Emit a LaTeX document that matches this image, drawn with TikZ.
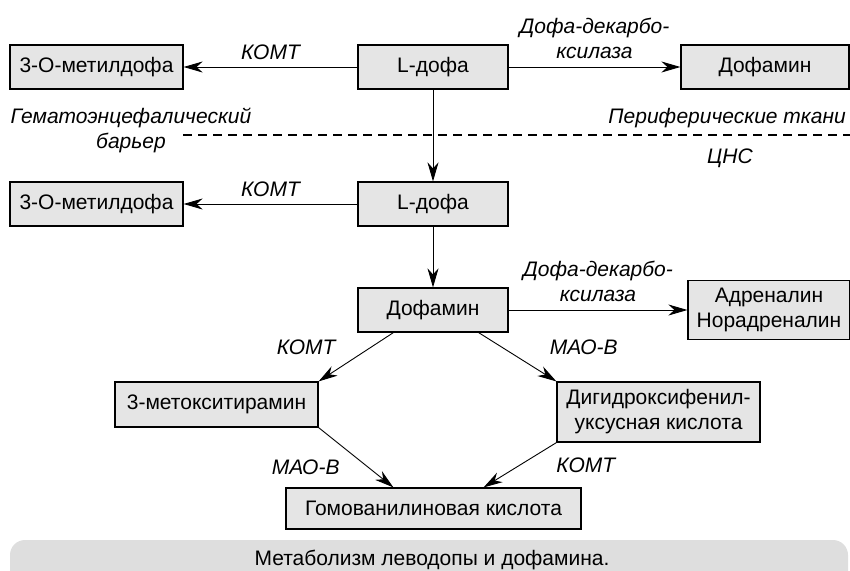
\documentclass[tikz,border=0pt]{standalone}
\usepackage{fontspec}
\setmainfont{Liberation Sans}
\usetikzlibrary{arrows.meta, calc, positioning}
\definecolor{boxgray}{gray}{0.9}
\definecolor{bargray}{gray}{0.87}
\tikzset{
    box/.style={draw, line width=1.2pt, fill=boxgray, inner sep=2pt, align=center,
        font=\fontsize{21}{25}\selectfont},
    enz/.style={font=\fontsize{21}{25}\selectfont\itshape, align=center, inner sep=2pt},
    reac/.style={line width=0.9pt, -{Stealth[length=19pt, width=11pt, inset=6pt]}},
    barrier/.style={line width=2pt, dash pattern=on 9pt off 6pt}
}

\begin{document}
\begin{tikzpicture}[x=1pt, y=-1pt]
    \useasboundingbox (0,0) rectangle (850,570);
    % periphery
    \node[box, minimum width=173, minimum height=44] (met1) at (96.5,67) {3-O-метилдофа};
    \node[box, minimum width=150, minimum height=44] (ldopa1) at (433,67) {L-дофа};
    \node[box, minimum width=168, minimum height=44] (dofa1) at (765,67) {Дофамин};
    \draw[reac] (ldopa1) -- node[enz, above=5pt] (k1) {КОМТ} (met1);
    \draw[reac] (ldopa1) -- node[enz, above=6pt] (d1) {Дофа-декарбо-\\ксилаза} (dofa1);
    % barrier
    \coordinate (bl) at (183,135);
    \coordinate (br) at (850,135);
    \draw[barrier] (bl) -- (br);
    \node[enz] (bbb) at (131,130) {Гематоэнцефалический\\барьер};
    \node[enz, anchor=east] (per) at (848,118) {Периферические ткани};
    \node[enz] (cns) at (730,158) {ЦНС};
    % CNS
    \node[box, minimum width=173, minimum height=44] (met2) at (96.5,204) {3-O-метилдофа};
    \node[box, minimum width=150, minimum height=44] (ldopa2) at (433,204) {L-дофа};
    \draw[reac] (ldopa1) -- (ldopa2);
    \draw[reac] (ldopa2) -- node[enz, above=5pt] (k2) {КОМТ} (met2);
    \node[box, minimum width=150, minimum height=44] (dofa2) at (433,310) {Дофамин};
    \draw[reac] (ldopa2) -- (dofa2);
    \node[box, minimum width=162, minimum height=59] (adr) at (769,310) {Адреналин\\Норадреналин};
    \draw[reac] (dofa2) -- node[enz, above=6pt] (d2) {Дофа-декарбо-\\ксилаза} (adr);
    \node[box, minimum width=203, minimum height=45] (metox) at (216.5,404.5) {3-метокситирамин};
    \node[box, minimum width=203, minimum height=60] (dihydr) at (658.5,412) {Дигидроксифенил-\\уксусная кислота};
    \node[box, minimum width=295, minimum height=41] (homov) at (433.5,508.5) {Гомованилиновая кислота};
    \draw[reac] ($(dofa2.south west)+(36,0)$) -- node[enz, anchor=south east, xshift=-18pt] (k3) {КОМТ} (metox.north east);
    \draw[reac] ($(dofa2.south east)+(-30,0)$) -- node[enz, anchor=south west, xshift=30pt] (m1) {МАО-В} (dihydr.north west);
    \draw[reac] (metox.south east) -- node[enz, anchor=north east, xshift=-14pt] (m2) {МАО-В} ($(homov.north west)+(108,0)$);
    \draw[reac] (dihydr.south west) -- node[enz, anchor=west, xshift=34pt] (k4) {КОМТ} ($(homov.north east)+(-98,0)$);
    % caption
    \fill[bargray, rounded corners=15pt] (10,540) rectangle (848,590);
    \node[font=\fontsize{21}{25}\selectfont] (cap) at (432,560) {Метаболизм леводопы и дофамина.};
\end{tikzpicture}
\end{document}
